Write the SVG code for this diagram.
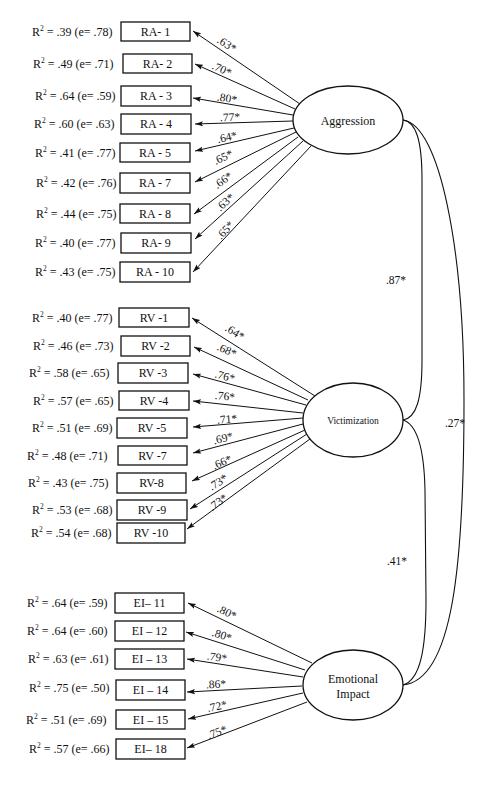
<svg xmlns="http://www.w3.org/2000/svg" width="488" height="800" viewBox="0 0 488 800">
<defs>
<marker id="ah" markerUnits="userSpaceOnUse" markerWidth="9" markerHeight="6" refX="8" refY="3" orient="auto">
<path d="M0,0.4 L8,3 L0,5.6 L1.5,3 z" fill="#111"/>
</marker>
<style>
text{font-family:"Liberation Serif","Times New Roman",serif;fill:#111}
.box rect{fill:#fff;stroke:#111;stroke-width:1.3}
.box text{font-size:12px;text-anchor:middle}
.r2{font-size:12px}
.sup{font-size:7.5px}
.lat ellipse{fill:#fff;stroke:#111;stroke-width:1.3}
.lat text{text-anchor:middle;font-size:12px}
.conn line{stroke:#111;stroke-width:1;marker-end:url(#ah)}
.conn path{fill:none;stroke:#111;stroke-width:1.1}
.coef{font-size:11.5px;text-anchor:middle}
</style>
</defs>
<rect width="488" height="800" fill="#fff"/>

<g id="connectors" class="conn">
<line x1="300" y1="104" x2="193" y2="31"/>
<line x1="295" y1="109" x2="195" y2="64"/>
<line x1="293" y1="115" x2="193" y2="98"/>
<line x1="293" y1="121" x2="195" y2="124"/>
<line x1="294" y1="128" x2="195" y2="151"/>
<line x1="296" y1="132" x2="195" y2="182"/>
<line x1="298" y1="137" x2="194" y2="214"/>
<line x1="303" y1="141" x2="195" y2="239"/>
<line x1="311" y1="146" x2="193" y2="272"/>

<line x1="315" y1="396" x2="192" y2="318"/>
<line x1="308" y1="400" x2="194" y2="347"/>
<line x1="306" y1="405" x2="193" y2="374"/>
<line x1="303" y1="413" x2="193" y2="401"/>
<line x1="303" y1="418" x2="193" y2="427"/>
<line x1="303" y1="424" x2="193" y2="453"/>
<line x1="305" y1="430" x2="192" y2="481"/>
<line x1="307" y1="434" x2="190" y2="509"/>
<line x1="310" y1="439" x2="187" y2="529"/>

<line x1="312" y1="663" x2="188" y2="603"/>
<line x1="305" y1="670" x2="186" y2="632"/>
<line x1="303" y1="677" x2="187" y2="659"/>
<line x1="302" y1="686" x2="187" y2="692"/>
<line x1="303" y1="693" x2="188" y2="719"/>
<line x1="307" y1="702" x2="187" y2="748"/>

<path d="M403,120 C416,122 422,140 422,180 L422,360 C422,400 416,418 403,420"/>
<path d="M403,420 C416,424 424,445 425,490 L426,600 C426,650 420,680 403,685"/>
<path d="M403,120 C440,125 464,250 464,400 C464,565 453,680 403,685"/>

<g class="coef">
<text transform="translate(227,44) rotate(32)" y="4">.63*</text>
<text transform="translate(222,69) rotate(24)" y="4">.70*</text>
<text transform="translate(227,98) rotate(9)" y="4">.80*</text>
<text transform="translate(230,117) rotate(-2)" y="4">.77*</text>
<text transform="translate(227,137) rotate(-13)" y="4">.64*</text>
<text transform="translate(223,157) rotate(-26)" y="4">.65*</text>
<text transform="translate(223,180) rotate(-36)" y="4">.66*</text>
<text transform="translate(225,202) rotate(-42)" y="4">.63*</text>
<text transform="translate(225,230) rotate(-47)" y="4">.65*</text>

<text transform="translate(235,332) rotate(32)" y="4">.64*</text>
<text transform="translate(227,350) rotate(24)" y="4">.68*</text>
<text transform="translate(225,376) rotate(15)" y="4">.76*</text>
<text transform="translate(225,396) rotate(6)" y="4">.76*</text>
<text transform="translate(227,419) rotate(-5)" y="4">.71*</text>
<text transform="translate(223,438) rotate(-15)" y="4">.69*</text>
<text transform="translate(222,462) rotate(-24)" y="4">.66*</text>
<text transform="translate(218,482) rotate(-33)" y="4">.73*</text>
<text transform="translate(218,502) rotate(-36)" y="4">.73*</text>

<text transform="translate(227,612) rotate(26)" y="4">.80*</text>
<text transform="translate(222,635) rotate(18)" y="4">.80*</text>
<text transform="translate(217,657) rotate(8)" y="4">.79*</text>
<text transform="translate(216,684) rotate(-3)" y="4">.86*</text>
<text transform="translate(217,706) rotate(-12)" y="4">.72*</text>
<text transform="translate(217,732) rotate(-21)" y="4">.75*</text>

<text x="396" y="284">.87*</text>
<text x="397" y="565">.41*</text>
<text x="455" y="427">.27*</text>
</g>
</g>

<g id="aggression" class="lat"><ellipse cx="348" cy="120" rx="55" ry="34"/><text x="348" y="125">Aggression</text></g>
<g id="victimization" class="lat"><ellipse cx="353" cy="420" rx="50" ry="37"/><text x="353" y="424" style="font-size:9.5px">Victimization</text></g>
<g id="emotional-impact" class="lat"><ellipse cx="353" cy="685" rx="50" ry="35"/><text x="353" y="683">Emotional</text><text x="353" y="698">Impact</text></g>

<g id="RA-1" class="box"><rect x="121" y="22" width="69" height="19"/><text x="155.5" y="35.5">RA- 1</text></g>
<g id="RA-2" class="box"><rect x="123" y="54" width="69" height="19"/><text x="157.5" y="67.5">RA- 2</text></g>
<g id="RA-3" class="box"><rect x="121" y="86" width="70" height="20"/><text x="156" y="100">RA - 3</text></g>
<g id="RA-4" class="box"><rect x="121" y="114" width="70" height="20"/><text x="156" y="128">RA - 4</text></g>
<g id="RA-5" class="box"><rect x="120" y="143" width="70" height="19"/><text x="155" y="156.5">RA - 5</text></g>
<g id="RA-7" class="box"><rect x="120" y="173" width="70" height="20"/><text x="155" y="187">RA - 7</text></g>
<g id="RA-8" class="box"><rect x="120" y="204" width="70" height="19"/><text x="155" y="217.5">RA - 8</text></g>
<g id="RA-9" class="box"><rect x="121" y="233" width="70" height="20"/><text x="156" y="247">RA- 9</text></g>
<g id="RA-10" class="box"><rect x="120" y="262" width="70" height="20"/><text x="155" y="276">RA - 10</text></g>

<g id="RV-1" class="box"><rect x="119" y="308" width="70" height="19"/><text x="154" y="321.5">RV -1</text></g>
<g id="RV-2" class="box"><rect x="121" y="336" width="69" height="20"/><text x="155.5" y="350">RV -2</text></g>
<g id="RV-3" class="box"><rect x="118" y="363" width="70" height="20"/><text x="153" y="377">RV -3</text></g>
<g id="RV-4" class="box"><rect x="119" y="391" width="70" height="19"/><text x="154" y="404.5">RV -4</text></g>
<g id="RV-5" class="box"><rect x="117" y="418" width="70" height="20"/><text x="152" y="432">RV -5</text></g>
<g id="RV-7" class="box"><rect x="118" y="446" width="69" height="19"/><text x="152.5" y="459.5">RV -7</text></g>
<g id="RV-8" class="box"><rect x="117" y="473" width="69" height="20"/><text x="151.5" y="487">RV-8</text></g>
<g id="RV-9" class="box"><rect x="117" y="500" width="70" height="20"/><text x="152" y="514">RV -9</text></g>
<g id="RV-10" class="box"><rect x="117" y="523" width="68" height="20"/><text x="151" y="537">RV -10</text></g>

<g id="EI-11" class="box"><rect x="115" y="593" width="69" height="20"/><text x="149.5" y="607">EI– 11</text></g>
<g id="EI-12" class="box"><rect x="115" y="621" width="69" height="20"/><text x="149.5" y="635">EI – 12</text></g>
<g id="EI-13" class="box"><rect x="115" y="649" width="69" height="20"/><text x="149.5" y="663">EI – 13</text></g>
<g id="EI-14" class="box"><rect x="116" y="680" width="69" height="20"/><text x="150.5" y="694">EI – 14</text></g>
<g id="EI-15" class="box"><rect x="116" y="710" width="69" height="19"/><text x="150.5" y="723.5">EI – 15</text></g>
<g id="EI-18" class="box"><rect x="116" y="739" width="69" height="20"/><text x="150.5" y="753">EI– 18</text></g>

<g id="r2-labels" class="r2">
<text x="32" y="35.5">R<tspan class="sup" dy="-5">2</tspan><tspan dy="5"> = .39 (e= .78)</tspan></text>
<text x="33" y="67.5">R<tspan class="sup" dy="-5">2</tspan><tspan dy="5"> = .49 (e= .71)</tspan></text>
<text x="35" y="100">R<tspan class="sup" dy="-5">2</tspan><tspan dy="5"> = .64 (e= .59)</tspan></text>
<text x="34" y="128">R<tspan class="sup" dy="-5">2</tspan><tspan dy="5"> = .60 (e= .63)</tspan></text>
<text x="35" y="156.5">R<tspan class="sup" dy="-5">2</tspan><tspan dy="5"> = .41 (e= .77)</tspan></text>
<text x="36" y="187">R<tspan class="sup" dy="-5">2</tspan><tspan dy="5"> = .42 (e= .76)</tspan></text>
<text x="36" y="217.5">R<tspan class="sup" dy="-5">2</tspan><tspan dy="5"> = .44 (e= .75)</tspan></text>
<text x="35" y="247">R<tspan class="sup" dy="-5">2</tspan><tspan dy="5"> = .40 (e= .77)</tspan></text>
<text x="35" y="276">R<tspan class="sup" dy="-5">2</tspan><tspan dy="5"> = .43 (e= .75)</tspan></text>

<text x="32" y="321.5">R<tspan class="sup" dy="-5">2</tspan><tspan dy="5"> = .40 (e= .77)</tspan></text>
<text x="33" y="350">R<tspan class="sup" dy="-5">2</tspan><tspan dy="5"> = .46 (e= .73)</tspan></text>
<text x="29" y="377">R<tspan class="sup" dy="-5">2</tspan><tspan dy="5"> = .58 (e= .65)</tspan></text>
<text x="33" y="404.5">R<tspan class="sup" dy="-5">2</tspan><tspan dy="5"> = .57 (e= .65)</tspan></text>
<text x="32" y="432">R<tspan class="sup" dy="-5">2</tspan><tspan dy="5"> = .51 (e= .69)</tspan></text>
<text x="27" y="459.5">R<tspan class="sup" dy="-5">2</tspan><tspan dy="5"> = .48 (e= .71)</tspan></text>
<text x="28" y="487">R<tspan class="sup" dy="-5">2</tspan><tspan dy="5"> = .43 (e= .75)</tspan></text>
<text x="32" y="514">R<tspan class="sup" dy="-5">2</tspan><tspan dy="5"> = .53 (e= .68)</tspan></text>
<text x="31" y="537">R<tspan class="sup" dy="-5">2</tspan><tspan dy="5"> = .54 (e= .68)</tspan></text>

<text x="27" y="607">R<tspan class="sup" dy="-5">2</tspan><tspan dy="5"> = .64 (e= .59)</tspan></text>
<text x="27" y="635">R<tspan class="sup" dy="-5">2</tspan><tspan dy="5"> = .64 (e= .60)</tspan></text>
<text x="28" y="663">R<tspan class="sup" dy="-5">2</tspan><tspan dy="5"> = .63 (e= .61)</tspan></text>
<text x="29" y="692">R<tspan class="sup" dy="-5">2</tspan><tspan dy="5"> = .75 (e= .50)</tspan></text>
<text x="26" y="723.5">R<tspan class="sup" dy="-5">2</tspan><tspan dy="5"> = .51 (e= .69)</tspan></text>
<text x="29" y="753">R<tspan class="sup" dy="-5">2</tspan><tspan dy="5"> = .57 (e= .66)</tspan></text>
</g>
</svg>
